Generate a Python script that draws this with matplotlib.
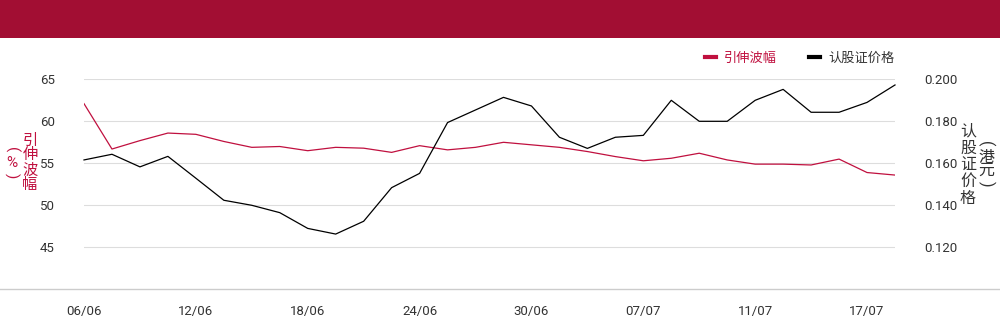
import matplotlib
matplotlib.use("Agg")
import matplotlib.pyplot as plt
from matplotlib.lines import Line2D
from matplotlib.patches import Rectangle

plt.rcParams['font.family'] = ['Roboto', 'Noto Sans CJK SC', 'DejaVu Sans']

# Data
dates = ["06/06", "09/06", "10/06", "11/06", "12/06", "13/06", "16/06", "17/06",
         "18/06", "19/06", "20/06", "23/06", "24/06", "25/06", "26/06", "27/06",
         "30/06", "02/07", "03/07", "04/07", "07/07", "08/07", "09/07", "10/07",
         "11/07", "14/07", "15/07", "16/07", "17/07", "18/07"]
vol = [62.1, 56.7, 57.7, 58.6, 58.45, 57.6, 56.9, 57.0, 56.5, 56.9,
       56.8, 56.3, 57.1, 56.6, 56.9, 57.5, 57.2, 56.9, 56.4, 55.8,
       55.3, 55.6, 56.2, 55.4, 54.9, 54.9, 54.8, 55.5, 53.9, 53.6]
price = [0.1616, 0.1643, 0.1583, 0.1633, 0.1529, 0.1424, 0.140, 0.1365, 0.129, 0.1263,
         0.1324, 0.1484, 0.1552, 0.1794, 0.1854, 0.1914, 0.1873, 0.1724, 0.1671, 0.1724,
         0.1733, 0.190, 0.180, 0.180, 0.190, 0.1952, 0.1843, 0.1843, 0.189, 0.1973]
left_ticks = [45, 50, 55, 60, 65]
right_ticks = [0.12, 0.14, 0.16, 0.18, 0.20]

RED = "#C0103F"
BANNER = "#A20E33"
TXT = "#333333"
W, H = 1000, 324

fig = plt.figure(figsize=(10, 3.24), dpi=100)

# top banner
fig.add_artist(Rectangle((0, 1 - 38 / H), 1, 38 / H, transform=fig.transFigure,
                         color=BANNER, lw=0))
# full width baseline
fig.add_artist(Line2D([0, 1], [1 - 289.3 / H] * 2, transform=fig.transFigure,
                      color="#cccccc", lw=1))

ax = fig.add_axes([0.084, 1 - 289.3 / H, 0.811, (289.3 - 79.3) / H])
ax2 = ax.twinx()

x = list(range(len(dates)))
ax.plot(x, vol, color=RED, lw=0.9, zorder=3)
ax2.plot(x, price, color="black", lw=0.9, clip_on=False)

ax.set_xlim(0, len(dates) - 1)
ax.set_ylim(40, 65)
ax2.set_ylim(0.10, 0.20)
ax.set_yticks(left_ticks)
ax2.set_yticks(right_ticks)
ax2.set_yticklabels(["%.3f" % v for v in right_ticks])
ax.set_xticks(x[::4])
ax.set_xticklabels(dates[::4])

ax.grid(axis="y", color="#dddddd", lw=0.8)
ax.set_axisbelow(True)
for a in (ax, ax2):
    for s in a.spines.values():
        s.set_visible(False)
    a.tick_params(length=0, labelsize=9.5, colors=TXT)
ax.tick_params(axis="y", pad=21)
ax2.tick_params(axis="y", pad=21)
ax.tick_params(axis="x", pad=11)


def vtext(xc, yc, chars, pitch, color, size):
    # stack characters vertically, parentheses turned sideways
    n = len(chars)
    for i, ch in enumerate(chars):
        yp = yc + (i - (n - 1) / 2) * pitch
        rot = 270 if ch in "()" else 0
        fig.text(xc / W, 1 - yp / H, ch, color=color, fontsize=size,
                 ha="center", va="center", rotation=rotation_fix(rot))


def rotation_fix(r):
    return r


vtext(30, 163, "引伸波幅", 15, RED, 11)
vtext(11.5, 163, "(%)", 13, RED, 11)
vtext(968, 165, "认股证价格", 16.8, TXT, 11.5)
vtext(986, 164, "(港元)", 13.5, TXT, 11.5)

handles = [Line2D([], [], color=RED, lw=3), Line2D([], [], color="black", lw=3)]
leg = fig.legend(handles, ["引伸波幅", "认股证价格"], loc="center right",
                 bbox_to_anchor=(0.906, 1 - 58 / H), ncol=2, frameon=False,
                 fontsize=9.5, handlelength=0.8, handletextpad=0.6, columnspacing=2.5)
leg.get_texts()[0].set_color(RED)
leg.get_texts()[1].set_color(TXT)

fig.savefig("out.png", dpi=100)
